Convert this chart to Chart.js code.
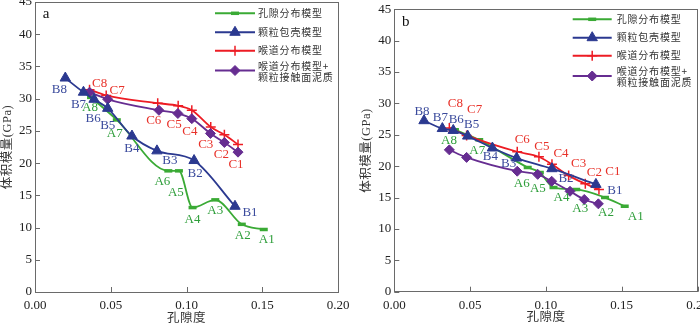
<!DOCTYPE html>
<html><head><meta charset="utf-8">
<script src="https://cdn.jsdelivr.net/npm/chart.js@4.4.1/dist/chart.umd.min.js"></script>
<style>
html,body{margin:0;padding:0;background:#fff;}
#wrap{position:relative;width:700px;height:325px;overflow:hidden;background:#fff;}
canvas{position:absolute;top:0;}
</style></head><body>
<div id="wrap">
<canvas id="ca" width="350" height="325" style="left:0px"></canvas>
<canvas id="cb" width="350" height="325" style="left:350px"></canvas>
</div>
<script>
// ---------- data (index 0 = point 1 ... index 7 = point 8) ----------
const pointNo = [1, 2, 3, 4, 5, 6, 7, 8];
const xTickValues = [0, 0.05, 0.10, 0.15, 0.20];
const yTickValues = [0, 5, 10, 15, 20, 25, 30, 35, 40, 45];
const seriesNames = ['孔隙分布模型', '颗粒包壳模型', '喉道分布模型', ['喉道分布模型+', '颗粒接触面泥质']];
const seriesLetters = ['A', 'B', 'C', null];
const xTitle = '孔隙度';
const yTitle = '体积模量(GPa)';

// panel a
const aPoreX   = [0.151, 0.1365, 0.119, 0.104, 0.095, 0.088, 0.054, 0.037];
const aPoreY   = [9.7, 10.5, 14.3, 13.1, 18.8, 18.8, 26.7, 30.2];
const aGrainX  = [0.132, 0.105, 0.0805, 0.064, 0.048, 0.039, 0.032, 0.020];
const aGrainY  = [13.3, 20.4, 21.9, 24.2, 28.5, 29.9, 31.0, 33.2];
const aThroatX = [0.134, 0.125, 0.116, 0.1035, 0.0945, 0.081, 0.047, 0.036];
const aThroatY = [22.9, 24.4, 25.6, 28.2, 28.9, 29.3, 30.5, 31.4];
const aClayX   = [0.134, 0.125, 0.1158, 0.1035, 0.0943, 0.0818, 0.048, 0.036];
const aClayY   = [21.7, 23.2, 24.6, 26.9, 27.7, 28.2, 29.9, 31.0];

// panel b
const bPoreX   = [0.152, 0.139, 0.120, 0.105, 0.096, 0.088, 0.056, 0.040];
const bPoreY   = [13.6, 15.0, 16.3, 16.6, 19.0, 19.8, 24.2, 25.8];
const bGrainX  = [0.133, 0.104, 0.0807, 0.0647, 0.0484, 0.0389, 0.0317, 0.0196];
const bGrainY  = [17.1, 19.6, 21.3, 22.9, 24.8, 25.7, 26.0, 27.25];
const bThroatX = [0.135, 0.126, 0.115, 0.104, 0.0954, 0.0811, 0.0477, 0.0363];
const bThroatY = [16.3, 17.2, 18.5, 20.3, 21.5, 22.3, 24.9, 26.1];
const bClayX   = [0.1346, 0.1253, 0.1159, 0.1038, 0.0946, 0.0811, 0.0477, 0.0363];
const bClayY   = [14.0, 14.7, 16.0, 17.6, 18.7, 19.2, 21.4, 22.6];

// ---------- styles / layout ----------
const COLORS = ['#3aaa35', '#2b3990', '#ed1c24', '#662d91'];
const LABEL_COLORS = ['#2e9e3a', '#3a4a9c', '#e8322a'];
const FRAME = '#6a6a6a';
const SERIF = '"Liberation Serif", "Times New Roman", serif';
const CJK = '"Liberation Serif", "Noto Sans CJK SC", sans-serif';

const layoutA = {
  plot: {left: 35, top: 2, right: 338, bottom: 292},
  letter: {t: 'a', x: 46, y: 14},
  legend: {x0: 215, x1: 255, tx: 258, ys: [13.3, 32.3, 50.7, 70.5], tys: [[13.3], [32.3], [50.7], [66.2, 77]]},
  yTitleX: 8,
  xTitleY: 319,
  offsets: [
    [[3,10],[1,11],[0,11],[0,12],[-3,22],[-6,11],[-2,14],[-1,10]],
    [[15,6],[1,13],[13,10],[0,13],[0,17],[-1,19],[-5,12],[-6,12]],
    [[-2,20],[-3,20],[-5,18],[-2,21],[-4,19],[-4,17],[11,-5],[10,-6]]
  ]
};
const layoutB = {
  plot: {left: 44.3, top: 9.3, right: 347.5, bottom: 291.7},
  letter: {t: 'b', x: 55.7, y: 21.7},
  legend: {x0: 222.7, x1: 261.7, tx: 266.7, ys: [19.3, 37.7, 55.7, 76], tys: [[19.3], [37.7], [55.7], [71, 82]]},
  yTitleX: 17,
  xTitleY: 318,
  offsets: [
    [[11,10],[1,15],[4,19],[8,10],[-2,16],[-6,16],[-2,11],[-6,11]],
    [[19,6],[14,10],[-8,6],[-2,9],[4,-11],[3,-11],[-2,-11],[-2,-9]],
    [[14,-18],[9,-11],[10,-12],[9,-11],[3,-10],[5,-12],[8,-26],[6,-24]]
  ]
};

function pts(xs, ys) { return xs.map((x, i) => ({x: x, y: ys[i]})); }

function makeDatasets(series) {
  const styles = [
    {pointStyle: 'line', pointRadius: 4, pointBorderWidth: 3.5, order: 4},
    {pointStyle: 'triangle', pointRadius: 6, pointBorderWidth: 1, order: 1},
    {pointStyle: 'cross', pointRadius: 5, pointBorderWidth: 1.5, order: 3},
    {pointStyle: 'rectRot', pointRadius: 5, pointBorderWidth: 1, order: 2}
  ];
  return series.map((s, i) => Object.assign({
    label: Array.isArray(seriesNames[i]) ? seriesNames[i].join('') : seriesNames[i],
    data: pts(s[0], s[1]),
    borderColor: COLORS[i],
    backgroundColor: COLORS[i],
    pointBackgroundColor: COLORS[i],
    pointBorderColor: COLORS[i],
    borderWidth: 1.8,
    cubicInterpolationMode: 'monotone',
    fill: false
  }, styles[i]));
}

const decorPlugin = {
  id: 'decor',
  beforeDatasetsDraw(chart) {
    const ctx = chart.ctx, a = chart.chartArea;
    const xs = chart.scales.x, ys = chart.scales.y;
    ctx.save();
    ctx.strokeStyle = FRAME; ctx.lineWidth = 1;
    ctx.strokeRect(Math.round(a.left) + 0.5, Math.round(a.top) + 0.5, Math.round(a.right - a.left), Math.round(a.bottom - a.top));
    ctx.beginPath();
    xTickValues.forEach(v => { const px = Math.round(xs.getPixelForValue(v)) + 0.5; ctx.moveTo(px, a.bottom); ctx.lineTo(px, a.bottom - 5); });
    yTickValues.forEach(v => { const py = Math.round(ys.getPixelForValue(v)) + 0.5; ctx.moveTo(a.left, py); ctx.lineTo(a.left + 5, py); });
    ctx.stroke();
    ctx.restore();
  },
  afterDatasetsDraw(chart) {
    const L = chart.options.plugins.decor.layout;
    const ctx = chart.ctx;
    ctx.save();
    ctx.font = '13px ' + SERIF;
    ctx.textAlign = 'center'; ctx.textBaseline = 'middle';
    for (let d = 0; d < 3; d++) {
      const meta = chart.getDatasetMeta(d);
      ctx.fillStyle = LABEL_COLORS[d];
      meta.data.forEach((el, i) => {
        const o = L.offsets[d][i];
        ctx.fillText(seriesLetters[d] + pointNo[i], el.x + o[0], el.y + o[1]);
      });
    }
    ctx.restore();
  },
  afterDraw(chart) {
    const L = chart.options.plugins.decor.layout;
    const ctx = chart.ctx, a = chart.chartArea;
    const G = L.legend;
    chart.data.datasets.forEach((d, i) => {
      const y = G.ys[i];
      ctx.save();
      ctx.strokeStyle = d.borderColor; ctx.lineWidth = 2;
      ctx.beginPath(); ctx.moveTo(G.x0, y); ctx.lineTo(G.x1, y); ctx.stroke();
      ctx.fillStyle = d.backgroundColor; ctx.strokeStyle = d.borderColor; ctx.lineWidth = d.pointBorderWidth;
      Chart.helpers.drawPoint(ctx, {pointStyle: d.pointStyle, radius: d.pointRadius, rotation: 0, borderWidth: d.pointBorderWidth}, (G.x0 + G.x1) / 2, y);
      ctx.restore();
      ctx.save();
      ctx.fillStyle = '#333';
      ctx.font = '10px "Noto Sans CJK SC", sans-serif';
      ctx.letterSpacing = '0.8px';
      ctx.textAlign = 'left'; ctx.textBaseline = 'middle';
      const lines = Array.isArray(seriesNames[i]) ? seriesNames[i] : [seriesNames[i]];
      lines.forEach((t, k) => ctx.fillText(t, G.tx, G.tys[i][k]));
      ctx.restore();
    });
    ctx.save();
    ctx.fillStyle = '#111';
    ctx.font = '15px ' + SERIF;
    ctx.textAlign = 'center'; ctx.textBaseline = 'middle';
    ctx.fillText(L.letter.t, L.letter.x, L.letter.y);
    ctx.font = '12.5px ' + CJK;
    ctx.fillStyle = '#333';
    ctx.letterSpacing = '0.5px';
    ctx.fillText(xTitle, (a.left + a.right) / 2, L.xTitleY);
    ctx.translate(L.yTitleX, (a.top + a.bottom) / 2);
    ctx.rotate(-Math.PI / 2);
    ctx.fillText(yTitle, 0, 0);
    ctx.restore();
  }
};

function makeChart(id, series, L) {
  const W = 350, H = 325;
  return new Chart(document.getElementById(id), {
    type: 'line',
    data: {datasets: makeDatasets(series)},
    options: {
      responsive: false,
      animation: false,
      events: [],
      devicePixelRatio: 1,
      layout: {autoPadding: false, padding: {left: 0, top: L.plot.top, right: W - L.plot.right, bottom: 0}},
      plugins: {legend: {display: false}, tooltip: {enabled: false}, decor: {layout: L}},
      scales: {
        x: {
          type: 'linear', min: 0, max: 0.2,
          grid: {display: false, drawTicks: false}, border: {display: false},
          afterBuildTicks: s => { s.ticks = xTickValues.map(v => ({value: v})); },
          afterFit: s => { s.height = H - L.plot.bottom; s.paddingLeft = 0; s.paddingRight = 0; s.paddingTop = 0; s.paddingBottom = 0; },
          ticks: {padding: 6, color: '#222', font: {family: SERIF, size: 13}, callback: v => Number(v).toFixed(2), maxRotation: 0, autoSkip: false}
        },
        y: {
          type: 'linear', min: 0, max: 45,
          grid: {display: false, drawTicks: false}, border: {display: false},
          afterBuildTicks: s => { s.ticks = yTickValues.map(v => ({value: v})); },
          afterFit: s => { s.width = L.plot.left; s.paddingLeft = 0; s.paddingRight = 0; s.paddingTop = 0; s.paddingBottom = 0; },
          ticks: {padding: 3, color: '#222', font: {family: SERIF, size: 13}, autoSkip: false}
        }
      }
    },
    plugins: [decorPlugin]
  });
}

makeChart('ca', [[aPoreX, aPoreY], [aGrainX, aGrainY], [aThroatX, aThroatY], [aClayX, aClayY]], layoutA);
makeChart('cb', [[bPoreX, bPoreY], [bGrainX, bGrainY], [bThroatX, bThroatY], [bClayX, bClayY]], layoutB);
</script>
</body></html>
